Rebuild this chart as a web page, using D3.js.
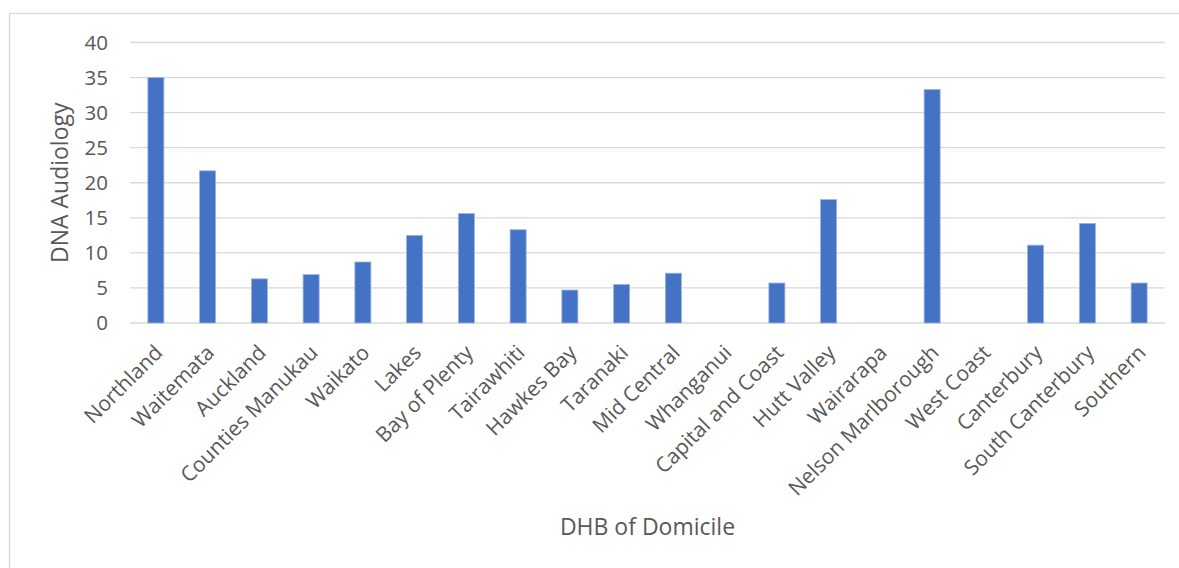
<!DOCTYPE html>
<html>
<head>
<meta charset="utf-8">
<script src="https://cdn.jsdelivr.net/npm/d3@7"></script>
<style>
  html, body { margin: 0; padding: 0; background: #fff; }
  svg { display: block; }
  text { font-family: "Open Sans", "Noto Sans", sans-serif; fill: #595959; }
</style>
</head>
<body>
<svg id="chart" width="1179" height="568"></svg>
<script>
// DNA (did not attend) rate for audiology, by DHB of domicile
const categories = [
  "Northland", "Waitemata", "Auckland", "Counties Manukau", "Waikato",
  "Lakes", "Bay of Plenty", "Tairawhiti", "Hawkes Bay", "Taranaki",
  "Mid Central", "Whanganui", "Capital and Coast", "Hutt Valley", "Wairarapa",
  "Nelson Marlborough", "West Coast", "Canterbury", "South Canterbury", "Southern"
];
const dnaValues = [
  35.0, 21.7, 6.3, 6.9, 8.7,
  12.5, 15.6, 13.3, 4.7, 5.5,
  7.1, 0, 5.7, 17.6, 0,
  33.3, 0, 11.1, 14.2, 5.7
];
const yTicks = [0, 5, 10, 15, 20, 25, 30, 35, 40];
const xTitle = "DHB of Domicile";
const yTitle = "DNA Audiology";

const W = 1179, H = 568;
const plot = { left: 130, right: 1165, top: 42.5, bottom: 323 };

const svg = d3.select("#chart");

// chart frame
svg.append("rect")
  .attr("x", 9.5).attr("y", 13.5)
  .attr("width", W + 10).attr("height", H + 10)
  .attr("fill", "#fff")
  .attr("stroke", "#d9d9d9").attr("stroke-width", 1.3);

const x = d3.scaleBand()
  .domain(categories)
  .range([plot.left, plot.right])
  .paddingInner(0.69).paddingOuter(0.345);

const y = d3.scaleLinear()
  .domain([0, 40])
  .range([plot.bottom, plot.top]);

// gridlines
svg.append("g")
  .selectAll("line")
  .data(yTicks)
  .join("line")
  .attr("x1", plot.left).attr("x2", plot.right)
  .attr("y1", d => y(d)).attr("y2", d => y(d))
  .attr("stroke", "#d9d9d9").attr("stroke-width", 1.3);

// y axis labels
const yAxis = d3.axisLeft(y).tickValues(yTicks).tickSize(0).tickPadding(0);
const gy = svg.append("g")
  .attr("transform", `translate(${plot.left - 22},0)`)
  .call(yAxis);
gy.select(".domain").remove();
gy.selectAll("text")
  .style("font-size", "20.5px")
  .style("fill", "#595959")
  .style("font-family", "'Open Sans', sans-serif");

// bars
svg.append("g")
  .selectAll("rect")
  .data(categories.map((c, i) => ({ c, v: dnaValues[i] })).filter(d => d.v > 0))
  .join("rect")
  .attr("x", d => x(d.c))
  .attr("width", x.bandwidth())
  .attr("y", d => y(d.v))
  .attr("height", d => y(0) - y(d.v))
  .attr("fill", "#4472c4")
  .attr("stroke", "#9db4e0")
  .attr("stroke-width", 0.8);

// x axis labels, rotated
const xAxis = d3.axisBottom(x).tickSize(0).tickPadding(0);
const gx = svg.append("g")
  .attr("transform", `translate(0,${plot.bottom})`)
  .call(xAxis);
gx.select(".domain").remove();
gx.selectAll("text")
  .style("font-size", "21px")
  .style("fill", "#595959")
  .style("font-family", "'Open Sans', sans-serif")
  .attr("text-anchor", "end")
  .attr("dy", null)
  .attr("y", 0)
  .attr("transform", "translate(8,31) rotate(-45)");

// axis titles
svg.append("text")
  .attr("x", (plot.left + plot.right) / 2)
  .attr("y", 535)
  .attr("text-anchor", "middle")
  .style("font-size", "23px")
  .text(xTitle);

svg.append("text")
  .attr("transform", `translate(68,${(plot.top + plot.bottom) / 2}) rotate(-90)`)
  .attr("text-anchor", "middle")
  .style("font-size", "23px")
  .text(yTitle);
</script>
</body>
</html>
